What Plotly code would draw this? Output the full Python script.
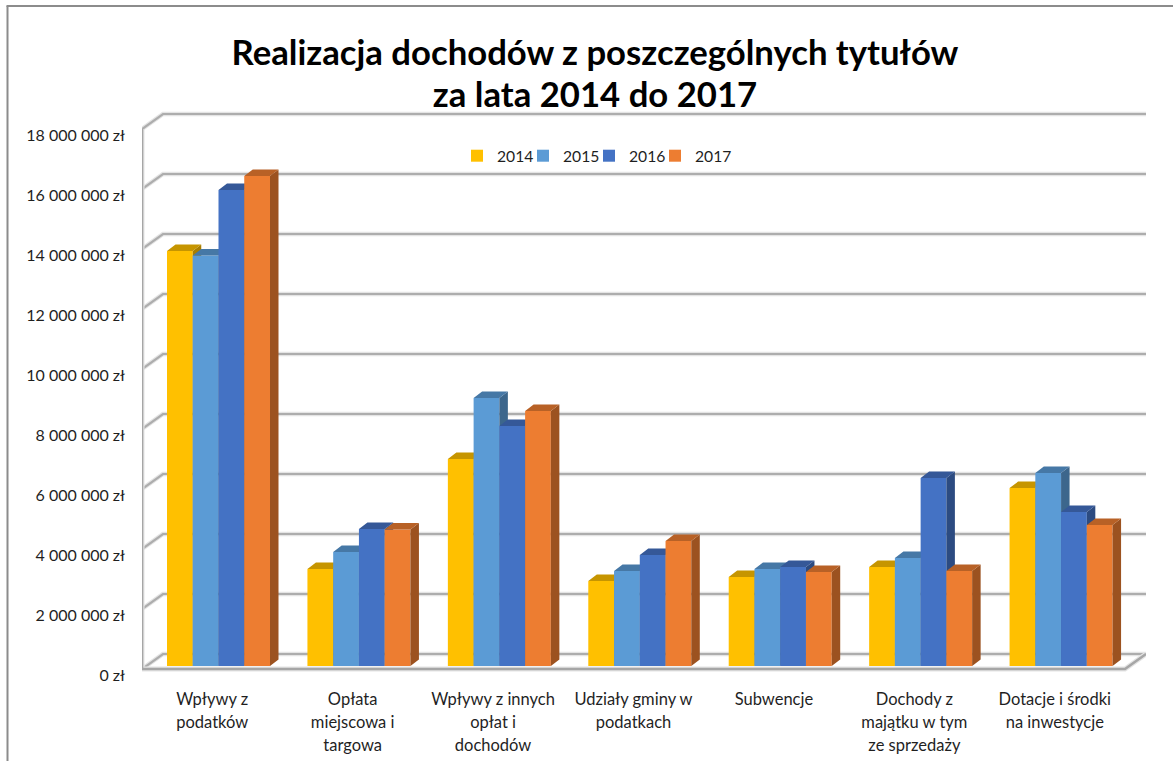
import plotly.graph_objects as go

W, H = 1173, 761
categories = ["Wpływy z<br>podatków", "Opłata<br>miejscowa i<br>targowa", "Wpływy z innych<br>opłat i<br>dochodów",
              "Udziały gminy w<br>podatkach", "Subwencje", "Dochody z<br>majątku w tym<br>ze sprzedaży",
              "Dotacje i środki<br>na inwestycje"]
years = ["2014", "2015", "2016", "2017"]
v2014 = [13830000, 3230000, 6900000, 2830000, 2970000, 3300000, 5930000]
v2015 = [13680000, 3800000, 8930000, 3170000, 3230000, 3600000, 6430000]
v2016 = [15870000, 4570000, 8000000, 3700000, 3300000, 6270000, 5130000]
v2017 = [16330000, 4550000, 8500000, 4170000, 3130000, 3170000, 4700000]
series = [v2014, v2015, v2016, v2017]
colors = ["#FFC000", "#5B9BD5", "#4472C4", "#ED7D31"]
y_ticks = [0, 2000000, 4000000, 6000000, 8000000, 10000000, 12000000, 14000000, 16000000, 18000000]
y_labels = ["0 zł", "2 000 000 zł", "4 000 000 zł", "6 000 000 zł", "8 000 000 zł", "10 000 000 zł",
            "12 000 000 zł", "14 000 000 zł", "16 000 000 zł", "18 000 000 zł"]

# pixel geometry of the pseudo-3D box
FRONT_L, FRONT_R, BACK_R = 142, 1125, 1146
FRONT_Y, TOP_LIM, BOT_LIM = 669, 110, 680
N = len(categories)
PX_X = (FRONT_R - FRONT_L) / N
PX_Y = 2000000 / 60
dx = 21 / PX_X
dyv = 15 * PX_Y
bar_w = 25.75 / PX_X
bar_start = 25 / PX_X
bar_base = 3 * PX_Y
bdx = 8.5 / PX_X
bdy = 6.5 * PX_Y

def shade(hexcol, f):
    r, g, b = int(hexcol[1:3], 16), int(hexcol[3:5], 16), int(hexcol[5:7], 16)
    return "#%02x%02x%02x" % (int(r * f), int(g * f), int(b * f))

xr = [-0.5, N - 0.5 + dx]
yr = [-(BOT_LIM - FRONT_Y) * PX_Y, (FRONT_Y - TOP_LIM) * PX_Y]

fig = go.Figure()

# walls and gridlines
xl, xb = -0.5, -0.5 + dx
xe = N - 0.5
gx, gy = [], []
for t in y_ticks:
    gx += [xl, xb, xe + dx, None]
    gy += [t, t + dyv, t + dyv, None]
ax_x = [xl, xl, None, xl, xe, xe + dx]
ax_y = [y_ticks[-1], 0, None, 0, 0, dyv]
for w, c in [(4.5, "#e4e4e4"), (2.2, "#adadad")]:
    fig.add_trace(go.Scatter(x=gx, y=gy, mode="lines", line=dict(color=c, width=w), showlegend=False,
                             hoverinfo="skip", cliponaxis=False))
for w, c in [(5, "#e4e4e4"), (2.6, "#a6a6a6")]:
    fig.add_trace(go.Scatter(x=ax_x, y=ax_y, mode="lines", line=dict(color=c, width=w), showlegend=False,
                             hoverinfo="skip", cliponaxis=False))

# bars: one overlaid axis per series so each one stacks above the previous
for k, (vals, col, yr_name) in enumerate(zip(series, colors, years)):
    ya = "y%d" % (k + 2)
    off = -0.5 + bar_start + k * bar_w
    fig.add_trace(go.Bar(x=list(range(N)), y=vals, base=bar_base, width=bar_w, offset=off, name=yr_name,
                         marker=dict(color=col, line=dict(width=0)), yaxis=ya, hoverinfo="y"))
    sx, sy, tx, ty = [], [], [], []
    for i, v in enumerate(vals):
        x0 = i + off
        x1 = x0 + bar_w
        top = v + bar_base
        sx += [x1, x1 + bdx, x1 + bdx, x1, x1, None]
        sy += [bar_base, bar_base + bdy, top + bdy, top, bar_base, None]
        tx += [x0, x0 + bdx, x1 + bdx, x1, x0, None]
        ty += [top, top + bdy, top + bdy, top, top, None]
    fig.add_trace(go.Scatter(x=sx, y=sy, mode="lines", fill="toself", fillcolor=shade(col, 0.66),
                             line=dict(width=0), showlegend=False, hoverinfo="skip", yaxis=ya))
    fig.add_trace(go.Scatter(x=tx, y=ty, mode="lines", fill="toself", fillcolor=shade(col, 0.78),
                             line=dict(width=0), showlegend=False, hoverinfo="skip", yaxis=ya))

# empty last legend slot: keeps the narrow entries from clipping the final year
fig.add_trace(go.Scatter(x=[None], y=[None], mode="lines", line=dict(color="rgba(255,255,255,0)", width=0),
                         name=" ", showlegend=True, hoverinfo="skip"))

FONT = "Lato"
dom_x = [FRONT_L / W, BACK_R / W]
dom_y = [1 - BOT_LIM / H, 1 - TOP_LIM / H]

def sized(text, px):
    return "<br>".join('<span style="font-size:%gpx">%s</span>' % (px, part) for part in text.split("<br>"))

layout = dict(
    width=W, height=H, margin=dict(l=0, r=0, t=0, b=0, pad=0, autoexpand=False),
    paper_bgcolor="white", plot_bgcolor="white",
    font=dict(family=FONT, color="#1f1f1f"),
    title=dict(text=sized("Realizacja dochodów z poszczególnych tytułów<br>za lata 2014 do 2017", 34.7),
               x=595 / W, xanchor="center", y=1 - 65 / H, yanchor="top",
               font=dict(family=FONT, size=32.3, color="black", weight="bold")),
    xaxis=dict(domain=dom_x, range=xr, tickmode="array", tickvals=list(range(N)),
               ticktext=[sized(c, 16.5) for c in categories],
               tickfont=dict(size=18, color="#1f1f1f"), showgrid=False, zeroline=False, showline=False,
               ticks="outside", ticklen=2, tickcolor="rgba(0,0,0,0)", tickangle=0),
    yaxis=dict(domain=dom_y, range=yr, tickmode="array", tickvals=y_ticks, ticktext=y_labels,
               tickfont=dict(size=16, color="#1f1f1f"), showgrid=False, zeroline=False, showline=False,
               ticks="", ticklabelstandoff=16, ticklabelshift=6),
    legend=dict(orientation="h", x=457 / W, xanchor="left", y=1 - 156 / H, yanchor="middle",
                bgcolor="rgba(0,0,0,0)", font=dict(size=15.7, color="#1f1f1f"), itemwidth=30,
                entrywidth=21, entrywidthmode="pixels", traceorder="normal"),
    shapes=[
        dict(type="line", xref="paper", yref="paper", x0=7.5 / W, x1=7.5 / W, y0=0, y1=1 - 6 / H, line=dict(color="#8c8c8c", width=2)),
        dict(type="line", xref="paper", yref="paper", x0=6.5 / W, x1=1, y0=1 - 6 / H, y1=1 - 6 / H, line=dict(color="#8c8c8c", width=2)),
    ],
    showlegend=True, barmode="overlay",
)
for k in range(len(series)):
    layout["yaxis%d" % (k + 2)] = dict(domain=dom_y, range=yr, overlaying="y", visible=False)
fig.update_layout(**layout)
fig.write_html("out.html", config=dict(displayModeBar=False),
               post_script="document.body.style.margin='0';document.body.style.overflow='hidden';")
